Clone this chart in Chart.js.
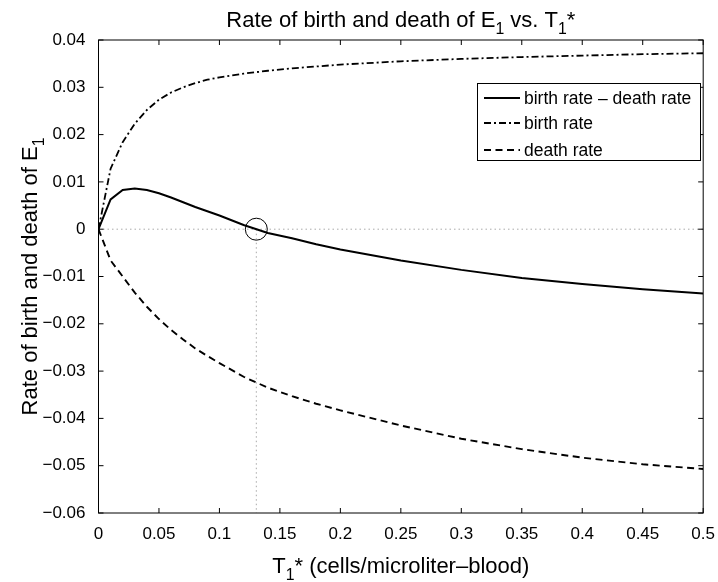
<!DOCTYPE html>
<html><head><meta charset="utf-8">
<script src="https://cdn.jsdelivr.net/npm/chart.js@4/dist/chart.umd.min.js"></script>
<style>html,body{margin:0;padding:0;background:#fff;}#wrap{width:718px;height:582px;}</style>
</head><body><div id="wrap"><canvas id="c" width="718" height="582"></canvas></div>
<script>
// ---- data ----
const tValues   = [0, 0.01, 0.02, 0.03, 0.04, 0.05, 0.06, 0.07, 0.08, 0.09, 0.10, 0.12, 0.14, 0.16, 0.18, 0.20, 0.25, 0.30, 0.35, 0.40, 0.45, 0.50];
const netRate   = [0, 0.0063, 0.0083, 0.0086, 0.0083, 0.0076, 0.0067, 0.0057, 0.0047, 0.0038, 0.0029, 0.0009, -0.0008, -0.0019, -0.0032, -0.0043, -0.0066, -0.0086, -0.0103, -0.0116, -0.0127, -0.0136];
const birthRate = [0, 0.0128, 0.0184, 0.0223, 0.0252, 0.0274, 0.0289, 0.0300, 0.0309, 0.0316, 0.0321, 0.0329, 0.0335, 0.0340, 0.0344, 0.0348, 0.0355, 0.0360, 0.0364, 0.0367, 0.0370, 0.0372];
const deathRate = [0, -0.0066, -0.0100, -0.0134, -0.0164, -0.0190, -0.0213, -0.0233, -0.0252, -0.0268, -0.0283, -0.0312, -0.0335, -0.0353, -0.0369, -0.0383, -0.0415, -0.0443, -0.0465, -0.0483, -0.0497, -0.0507];
const seriesLabels = ['birth rate \u2013 death rate', 'birth rate', 'death rate'];
const crossingT = 0.1305;
const xTicks = [0, 0.05, 0.1, 0.15, 0.2, 0.25, 0.3, 0.35, 0.4, 0.45, 0.5];
const xTickLabels = ['0', '0.05', '0.1', '0.15', '0.2', '0.25', '0.3', '0.35', '0.4', '0.45', '0.5'];
const yTicks = [-0.06, -0.05, -0.04, -0.03, -0.02, -0.01, 0, 0.01, 0.02, 0.03, 0.04];
const yTickLabels = ['\u22120.06', '\u22120.05', '\u22120.04', '\u22120.03', '\u22120.02', '\u22120.01', '0', '0.01', '0.02', '0.03', '0.04'];
const titleParts = [['Rate of birth and death of E', 0], ['1', 1], [' vs. T', 0], ['1', 1], ['*', 0]];
const xTitleParts = [['T', 0], ['1', 1], ['* (cells/microliter\u2013blood)', 0]];
const yTitleParts = [['Rate of birth and death of E', 0], ['1', 1]];

const FONT = '"Liberation Sans", Arial, Helvetica, sans-serif';
const pts = (ys) => tValues.map((t, i) => ({x: t, y: ys[i]}));

function richWidth(ctx, parts, size) {
  let w = 0;
  for (const [t, sub] of parts) { ctx.font = (sub ? size * 0.72 : size) + 'px ' + FONT; w += ctx.measureText(t).width; }
  return w;
}
function drawRich(ctx, parts, x, y, size) {
  let w = richWidth(ctx, parts, size);
  let cx = x - w / 2;
  ctx.textAlign = 'left'; ctx.textBaseline = 'alphabetic'; ctx.fillStyle = '#000';
  for (const [t, sub] of parts) {
    ctx.font = (sub ? size * 0.72 : size) + 'px ' + FONT;
    ctx.fillText(t, cx, y + (sub ? size * 0.32 : 0));
    cx += ctx.measureText(t).width;
  }
}

const framePlugin = {
  id: 'frame',
  afterDraw(chart) {
    const ctx = chart.ctx, a = chart.chartArea, xs = chart.scales.x, ys = chart.scales.y;
    ctx.save();
    ctx.strokeStyle = '#000'; ctx.lineWidth = 1; ctx.setLineDash([]);
    ctx.strokeRect(a.left, a.top, a.right - a.left, a.bottom - a.top);
    const L = 5;
    ctx.beginPath();
    xTicks.forEach(v => { const p = xs.getPixelForValue(v); ctx.moveTo(p, a.bottom); ctx.lineTo(p, a.bottom - L); ctx.moveTo(p, a.top); ctx.lineTo(p, a.top + L); });
    yTicks.forEach(v => { const p = ys.getPixelForValue(v); ctx.moveTo(a.left, p); ctx.lineTo(a.left + L, p); ctx.moveTo(a.right, p); ctx.lineTo(a.right - L, p); });
    ctx.stroke();

    // legend
    const lx = 477, ly = 83, lw = 223, lh = 77;
    ctx.fillStyle = '#fff'; ctx.fillRect(lx, ly, lw, lh);
    ctx.strokeStyle = '#000'; ctx.lineWidth = 1; ctx.strokeRect(lx + 0.5, ly + 0.5, lw, lh);
    const rows = [98, 123, 150];
    for (let i = 0; i < 3; i++) {
      const ds = chart.data.datasets[i];
      ctx.strokeStyle = ds.borderColor; ctx.lineWidth = ds.borderWidth; ctx.setLineDash(ds.borderDash || []);
      ctx.beginPath(); ctx.moveTo(484, rows[i]); ctx.lineTo(520, rows[i]); ctx.stroke();
      ctx.setLineDash([]);
      ctx.fillStyle = '#000'; ctx.font = '17.5px ' + FONT; ctx.textAlign = 'left'; ctx.textBaseline = 'middle';
      ctx.fillText(ds.label, 524, rows[i] + 1);
    }

    // titles
    const cxp = (a.left + a.right) / 2;
    drawRich(ctx, titleParts, cxp, 27, 22);
    drawRich(ctx, xTitleParts, cxp, 573, 22);
    ctx.save();
    ctx.translate(37, (a.top + a.bottom) / 2);
    ctx.rotate(-Math.PI / 2);
    drawRich(ctx, yTitleParts, 0, 0, 22);
    ctx.restore();
    ctx.restore();
  }
};

new Chart(document.getElementById('c'), {
  type: 'scatter',
  data: {
    datasets: [
      { label: seriesLabels[0], data: pts(netRate), showLine: true, borderColor: '#000', borderWidth: 2, pointRadius: 0, order: 0 },
      { label: seriesLabels[1], data: pts(birthRate), showLine: true, borderColor: '#000', borderWidth: 1.8, borderDash: [7, 3, 2, 3], pointRadius: 0, order: 1 },
      { label: seriesLabels[2], data: pts(deathRate), showLine: true, borderColor: '#000', borderWidth: 1.9, borderDash: [7, 4.5], pointRadius: 0, order: 2 },
      { label: 'zero', data: [{x: xTicks[0], y: 0}, {x: xTicks[xTicks.length - 1], y: 0}], showLine: true, borderColor: '#aaaaaa', borderWidth: 1, borderDash: [1.5, 3], pointRadius: 0, order: 10 },
      { label: 'crossing', data: [{x: crossingT, y: 0}, {x: crossingT, y: yTicks[0]}], showLine: true, borderColor: '#aaaaaa', borderWidth: 1, borderDash: [1.5, 3], pointRadius: 0, order: 10 },
      { label: 'marker', data: [{x: crossingT, y: 0}], showLine: false, pointRadius: 11, pointStyle: 'circle', borderColor: '#000', borderWidth: 1, backgroundColor: 'rgba(0,0,0,0)', order: 5 }
    ]
  },
  options: {
    responsive: false, animation: false, devicePixelRatio: 1,
    layout: { padding: { left: 0, top: 40, right: 13, bottom: 0 } },
    plugins: { legend: { display: false }, title: { display: false }, tooltip: { enabled: false } },
    scales: {
      x: {
        type: 'linear', min: 0, max: 0.5,
        afterBuildTicks: s => { s.ticks = xTicks.map(v => ({value: v})); },
        afterFit: s => { s.height = 69; },
        grid: { display: false }, border: { display: false },
        ticks: { autoSkip: false, maxRotation: 0, padding: 3, color: '#000', font: { family: FONT, size: 17 },
          callback: v => xTickLabels[xTicks.findIndex(t => Math.abs(t - v) < 1e-9)] }
      },
      y: {
        type: 'linear', min: -0.06, max: 0.04,
        afterBuildTicks: s => { s.ticks = yTicks.map(v => ({value: v})); },
        afterFit: s => { s.width = 98.5; },
        grid: { display: false }, border: { display: false },
        ticks: { autoSkip: false, padding: 5, color: '#000', font: { family: FONT, size: 17 },
          callback: v => yTickLabels[yTicks.findIndex(t => Math.abs(t - v) < 1e-9)] }
      }
    }
  },
  plugins: [framePlugin]
});
</script></body></html>
